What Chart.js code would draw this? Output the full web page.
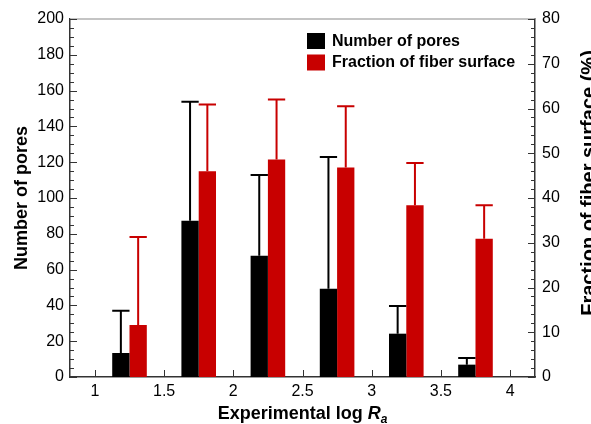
<!DOCTYPE html>
<html>
<head>
<meta charset="utf-8">
<script src="https://cdn.jsdelivr.net/npm/chart.js@4.4.0/dist/chart.umd.min.js"></script>
<style>
  html, body { margin: 0; padding: 0; background: #fff; }
</style>
</head>
<body>
<canvas id="myChart" width="591" height="424"></canvas>
<script>
// group centres on the log Ra axis
const logRa = [1.25, 1.75, 2.25, 2.75, 3.25, 3.75]

// number of pores (left axis) and upper error
const poreCount = [13.4, 87.3, 67.8, 49.3, 24.2, 6.9]
const poreErr = [23.6, 66.5, 45.0, 73.6, 15.5, 3.7]

// fraction of fiber surface in % (right axis) and upper error
const fiberFrac = [11.6, 46.0, 48.6, 46.8, 38.4, 30.9]
const fiberErr = [19.7, 14.9, 13.4, 13.7, 9.4, 7.5]

const xTicks = [1, 1.5, 2, 2.5, 3, 3.5, 4]
const poreTicks = [0, 20, 40, 60, 80, 100, 120, 140, 160, 180, 200]
const fracTicks = [0, 10, 20, 30, 40, 50, 60, 70, 80]

const FONT = '"Liberation Sans", Arial, sans-serif'
const RED = '#c80000'
const AXIS = '#333'

function points(xs, ys) {
  return xs.map((x, i) => ({ x: x, y: ys[i] }))
}

// error bars, inward ticks, top frame, legend and axis titles
const extras = {
  id: 'extras',
  afterDatasetsDraw(chart) {
    const ctx = chart.ctx
    chart.data.datasets.forEach((ds, i) => {
      const meta = chart.getDatasetMeta(i)
      const scale = chart.scales[ds.yAxisID]
      ctx.save()
      ctx.strokeStyle = ds.backgroundColor
      ctx.lineWidth = 2
      meta.data.forEach((bar, j) => {
        const top = scale.getPixelForValue(ds.data[j].y + ds.errors[j])
        const half = bar.width / 2
        ctx.beginPath()
        ctx.moveTo(bar.x, bar.y)
        ctx.lineTo(bar.x, top)
        ctx.moveTo(bar.x - half, top)
        ctx.lineTo(bar.x + half, top)
        ctx.stroke()
      })
      ctx.restore()
    })
  },
  afterDraw(chart) {
    const ctx = chart.ctx
    const area = chart.chartArea
    const x = chart.scales.x
    const yL = chart.scales.y
    const yR = chart.scales.y2
    ctx.save()

    // light frame line along the top
    ctx.strokeStyle = '#b0b0b0'
    ctx.lineWidth = 1.5
    ctx.beginPath()
    ctx.moveTo(area.left, area.top)
    ctx.lineTo(area.right, area.top)
    ctx.stroke()

    // tick marks pointing into the plot
    ctx.strokeStyle = AXIS
    ctx.lineWidth = 1
    ctx.beginPath()
    for (let v = 0; v <= 200; v += 5) {
      const p = Math.round(yL.getPixelForValue(v)) + 0.5
      const len = v % 20 === 0 ? 7 : 4
      ctx.moveTo(area.left, p)
      ctx.lineTo(area.left + len, p)
    }
    for (let v = 0; v <= 80; v += 2) {
      const p = Math.round(yR.getPixelForValue(v)) + 0.5
      const len = v % 10 === 0 ? 7 : 4
      ctx.moveTo(area.right, p)
      ctx.lineTo(area.right - len, p)
    }
    xTicks.forEach(v => {
      const p = Math.round(x.getPixelForValue(v)) + 0.5
      ctx.moveTo(p, area.bottom)
      ctx.lineTo(p, area.bottom - 7)
    })
    ctx.stroke()

    // legend
    ctx.font = 'bold 16px ' + FONT
    ctx.textBaseline = 'middle'
    ctx.textAlign = 'left'
    chart.data.datasets.forEach((ds, i) => {
      const top = area.top + 14 + i * 21.5
      ctx.fillStyle = ds.backgroundColor
      ctx.fillRect(307, top, 18, 16)
      ctx.fillStyle = '#000'
      ctx.fillText(ds.label, 332, top + 8.5)
    })

    // axis titles
    ctx.fillStyle = '#000'
    ctx.textBaseline = 'alphabetic'
    const midY = (area.top + area.bottom) / 2

    ctx.save()
    ctx.font = 'bold 18px ' + FONT
    ctx.translate(27, midY)
    ctx.rotate(-Math.PI / 2)
    ctx.textAlign = 'center'
    ctx.fillText('Number of pores', 0, 0)
    ctx.restore()

    ctx.save()
    ctx.font = 'bold 20px ' + FONT
    ctx.translate(595, 183)
    ctx.rotate(-Math.PI / 2)
    ctx.textAlign = 'center'
    ctx.fillText('Fraction of fiber surface (%)', 0, 0)
    ctx.restore()

    // x title with italic R and subscript a
    const main = 'Experimental log '
    ctx.font = 'bold 18px ' + FONT
    const w1 = ctx.measureText(main).width
    ctx.font = 'italic bold 18px ' + FONT
    const w2 = ctx.measureText('R').width
    ctx.font = 'italic bold 12px ' + FONT
    const w3 = ctx.measureText('a').width
    let tx = (area.left + area.right) / 2 - (w1 + w2 + w3) / 2
    const ty = 419
    ctx.textAlign = 'left'
    ctx.font = 'bold 18px ' + FONT
    ctx.fillText(main, tx, ty)
    tx += w1
    ctx.font = 'italic bold 18px ' + FONT
    ctx.fillText('R', tx, ty)
    tx += w2
    ctx.font = 'italic bold 12px ' + FONT
    ctx.fillText('a', tx, ty + 4)

    ctx.restore()
  }
}

const ctx = document.getElementById('myChart')
new Chart(ctx, {
  type: 'bar',
  data: {
    datasets: [
      {
        label: 'Number of pores',
        data: points(logRa, poreCount),
        errors: poreErr,
        backgroundColor: '#000000',
        yAxisID: 'y',
        stack: 'pores'
      },
      {
        label: 'Fraction of fiber surface',
        data: points(logRa, fiberFrac),
        errors: fiberErr,
        backgroundColor: RED,
        yAxisID: 'y2',
        stack: 'fiber'
      }
    ]
  },
  options: {
    responsive: false,
    animation: false,
    layout: { padding: { top: 19, left: 0, right: 0, bottom: 0 } },
    datasets: { bar: { categoryPercentage: 0.5, barPercentage: 1.0 } },
    plugins: { legend: { display: false }, tooltip: { enabled: false } },
    scales: {
      x: {
        type: 'linear',
        min: 0.82,
        max: 4.18,
        offset: false,
        grid: { display: false, drawTicks: false },
        border: { color: AXIS, width: 1.5 },
        afterBuildTicks: s => { s.ticks = xTicks.map(v => ({ value: v })) },
        afterFit: s => { s.height = 47 },
        ticks: {
          color: '#000',
          padding: 5,
          font: { family: FONT, size: 16 },
          callback: v => String(v)
        }
      },
      y: {
        position: 'left',
        min: 0,
        max: 200,
        grid: { display: false, drawTicks: false },
        border: { color: AXIS, width: 1.5 },
        afterBuildTicks: s => { s.ticks = poreTicks.map(v => ({ value: v })) },
        afterFit: s => { s.width = 70 },
        ticks: {
          color: '#000',
          padding: 6,
          font: { family: FONT, size: 16 },
          callback: v => String(v)
        }
      },
      y2: {
        position: 'right',
        min: 0,
        max: 80,
        grid: { display: false, drawTicks: false },
        border: { color: AXIS, width: 1.5 },
        afterBuildTicks: s => { s.ticks = fracTicks.map(v => ({ value: v })) },
        afterFit: s => { s.width = 56 },
        ticks: {
          color: '#000',
          padding: 7,
          font: { family: FONT, size: 16 },
          callback: v => String(v)
        }
      }
    }
  },
  plugins: [extras]
})
</script>
</body>
</html>
